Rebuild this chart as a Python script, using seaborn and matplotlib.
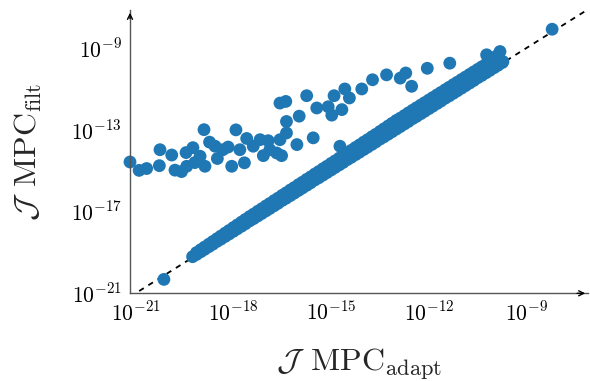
import numpy as np
import pandas as pd
import matplotlib
matplotlib.use("Agg")
import matplotlib.pyplot as plt
import seaborn as sns

# log10 of the costs
# upper, scattered cluster (filtered MPC clearly worse)
upper_x = [-21.17, -20.89, -20.66, -20.25, -20.27, -19.89, -19.79, -19.59, -19.43, -19.45,
           -19.24, -18.90, -19.02, -18.87, -18.73, -18.56, -18.49, -18.16, -18.05, -17.92,
           -17.66, -17.59, -17.39, -17.18, -17.08, -16.93, -16.67, -16.57, -16.39, -16.37,
           -16.37, -16.57, -16.52, -16.05, -15.98, -15.75, -15.55, -15.44, -15.09, -14.98,
           -14.91, -14.67, -14.58, -14.44, -14.06, -13.73, -13.30, -12.88, -12.71, -12.53,
           -12.05, -11.36, -18.32, -19.18, -17.80, -16.88]
upper_y = [-14.58, -14.99, -14.90, -13.98, -14.76, -14.24, -14.98, -15.05, -14.79, -14.12,
           -13.88, -13.00, -14.30, -14.79, -13.61, -13.81, -14.41, -13.85, -14.79, -13.01,
           -14.62, -13.43, -13.81, -13.49, -14.27, -13.54, -14.14, -11.70, -11.62, -12.60,
           -13.16, -13.49, -14.27, -13.73, -12.34, -11.34, -13.40, -11.94, -11.88, -12.29,
           -11.34, -12.02, -11.01, -11.45, -11.01, -10.56, -10.32, -10.48, -10.23, -10.88,
           -10.00, -9.75, -13.98, -14.61, -13.98, -13.98]

# diagonal band, lower edge (close to the identity line)
band_lo_x = [-19.25, -19.13, -19.00, -18.88, -18.75, -18.63, -18.50, -18.38, -18.25, -18.13,
             -18.00, -17.88, -17.75, -17.63, -17.50, -17.38, -17.25, -17.13, -17.00, -16.88,
             -16.75, -16.63, -16.50, -16.38, -16.25, -16.13, -16.00, -15.88, -15.75, -15.63,
             -15.50, -15.38, -15.25, -15.13, -15.00, -14.88, -14.75, -14.63, -14.50, -14.38,
             -14.25, -14.13, -14.00, -13.88, -13.75, -13.63, -13.50, -13.38, -13.25, -13.13,
             -13.00, -12.88, -12.75, -12.63, -12.50, -12.38, -12.25, -12.13, -12.00, -11.88,
             -11.75, -11.63, -11.50, -11.38, -11.25, -11.13, -11.00, -10.88, -10.75, -10.63,
             -10.50, -10.38, -10.25, -10.13, -10.00, -9.88, -9.75]
band_lo_y = [-19.21, -19.10, -18.97, -18.85, -18.72, -18.60, -18.46, -18.35, -18.22, -18.10,
             -17.97, -17.85, -17.72, -17.60, -17.46, -17.35, -17.22, -17.10, -16.97, -16.85,
             -16.72, -16.60, -16.46, -16.35, -16.22, -16.10, -15.97, -15.85, -15.72, -15.60,
             -15.46, -15.35, -15.22, -15.10, -14.97, -14.85, -14.72, -14.60, -14.46, -14.35,
             -14.22, -14.10, -13.97, -13.85, -13.72, -13.60, -13.46, -13.35, -13.22, -13.10,
             -12.97, -12.85, -12.72, -12.60, -12.46, -12.35, -12.22, -12.10, -11.97, -11.85,
             -11.72, -11.60, -11.46, -11.35, -11.22, -11.10, -10.97, -10.85, -10.72, -10.60,
             -10.46, -10.35, -10.22, -10.10, -9.97, -9.85, -9.72]

# diagonal band, upper edge
band_hi_x = [-19.13, -19.00, -18.88, -18.75, -18.63, -18.50, -18.38, -18.25, -18.13, -18.00,
             -17.88, -17.75, -17.63, -17.50, -17.38, -17.25, -17.13, -17.00, -16.88, -16.75,
             -16.63, -16.50, -16.38, -16.25, -16.13, -16.00, -15.88, -15.75, -15.63, -15.50,
             -15.38, -15.25, -15.13, -15.00, -14.88, -14.75, -14.63, -14.50, -14.38, -14.25,
             -14.13, -14.00, -13.88, -13.75, -13.63, -13.50, -13.38, -13.25, -13.13, -13.00,
             -12.88, -12.75, -12.63, -12.50, -12.38, -12.25, -12.13, -12.00, -11.88, -11.75,
             -11.63, -11.50, -11.38, -11.25, -11.13, -11.00, -10.88, -10.75, -10.63, -10.50,
             -10.38, -10.25, -10.13, -10.00, -9.88]
band_hi_y = [-19.01, -18.87, -18.74, -18.60, -18.47, -18.33, -18.20, -18.06, -17.93, -17.79,
             -17.66, -17.52, -17.39, -17.25, -17.13, -16.99, -16.87, -16.73, -16.61, -16.47,
             -16.35, -16.21, -16.09, -15.95, -15.83, -15.69, -15.57, -15.43, -15.31, -15.17,
             -15.05, -14.91, -14.79, -14.65, -14.53, -14.39, -14.27, -14.13, -14.01, -13.87,
             -13.75, -13.61, -13.49, -13.35, -13.23, -13.09, -12.96, -12.82, -12.69, -12.55,
             -12.44, -12.31, -12.18, -12.05, -11.93, -11.80, -11.68, -11.55, -11.43, -11.30,
             -11.18, -11.05, -10.93, -10.80, -10.68, -10.55, -10.43, -10.30, -10.18, -10.05,
             -9.93, -9.80, -9.68, -9.55, -9.43]

# middle of the thicker upper part of the band
band_mid_x = [-13.40, -13.00, -12.60, -12.20, -11.80, -11.40, -11.00, -10.60, -10.20, -9.90]
band_mid_y = [-13.18, -12.78, -12.35, -11.95, -11.55, -11.15, -10.75, -10.35, -9.95, -9.60]

# stray points
extra_x = [-20.13, -14.73, -10.23, -9.82, -9.73, -9.92, -8.22]
extra_y = [-20.32, -13.81, -9.34, -9.18, -9.67, -9.40, -8.09]

x_ticks = [-21, -18, -15, -12, -9]
y_ticks = [-21, -17, -13, -9]
x_lim = [-21.17, -7.12]
y_lim = [-20.97, -7.15]

all_x = upper_x + band_lo_x + band_hi_x + band_mid_x + extra_x
all_y = upper_y + band_lo_y + band_hi_y + band_mid_y + extra_y
df = pd.DataFrame({"adapt": np.power(10.0, all_x), "filt": np.power(10.0, all_y)})

sns.set_theme(style="white")
plt.rcParams["mathtext.fontset"] = "cm"
plt.rcParams["font.family"] = ["DejaVu Serif"]

fig = plt.figure(figsize=(5.9, 3.81), dpi=100)
ax = fig.add_axes([130 / 590, 1 - 293.3 / 381, (588 - 130) / 590, (293.3 - 10) / 381])

ax.set_xscale("log")
ax.set_yscale("log")

# identity line
lims = np.power(10.0, x_lim)
ax.plot(lims, lims, color="black", linestyle=(0, (3, 3)), linewidth=1.3, zorder=1)

sns.scatterplot(data=df, x="adapt", y="filt", ax=ax, s=85, color="#1f77b4",
                edgecolor="none", linewidth=0, zorder=2, clip_on=False)

ax.set_xlim(np.power(10.0, x_lim))
ax.set_ylim(np.power(10.0, y_lim))

ax.set_xticks(np.power(10.0, x_ticks))
ax.set_xticklabels([rf"$10^{{{t}}}$" for t in x_ticks])
ax.set_yticks(np.power(10.0, y_ticks))
ax.set_yticklabels([rf"$10^{{{t}}}$" for t in y_ticks])
ax.xaxis.set_minor_locator(matplotlib.ticker.NullLocator())
ax.yaxis.set_minor_locator(matplotlib.ticker.NullLocator())
ax.tick_params(direction="in", length=5, width=0.8, color="#aaaaaa",
               labelsize=15.5, labelcolor="black", pad=6)

for side in ["top", "right"]:
    ax.spines[side].set_visible(False)
for side in ["left", "bottom"]:
    ax.spines[side].set_color("#555555")
    ax.spines[side].set_linewidth(1.0)

# arrow heads on the axis lines
ax.annotate("", xy=(1.0, 0), xytext=(0.97, 0), xycoords="axes fraction",
            arrowprops=dict(arrowstyle="->", color="black", lw=1.0, mutation_scale=9))
ax.annotate("", xy=(0, 1.0), xytext=(0, 0.96), xycoords="axes fraction",
            arrowprops=dict(arrowstyle="->", color="black", lw=1.0, mutation_scale=9))

ax.set_xlabel(r"$\mathcal{J}\;\,\mathrm{MPC}_{\mathrm{adapt}}$", fontsize=23)
ax.set_ylabel(r"$\mathcal{J}\;\,\mathrm{MPC}_{\mathrm{filt}}$", fontsize=23)
ax.xaxis.set_label_coords(0.5, -0.19)
ax.yaxis.set_label_coords(-0.188, 0.5)

fig.savefig("out.png", dpi=100)
